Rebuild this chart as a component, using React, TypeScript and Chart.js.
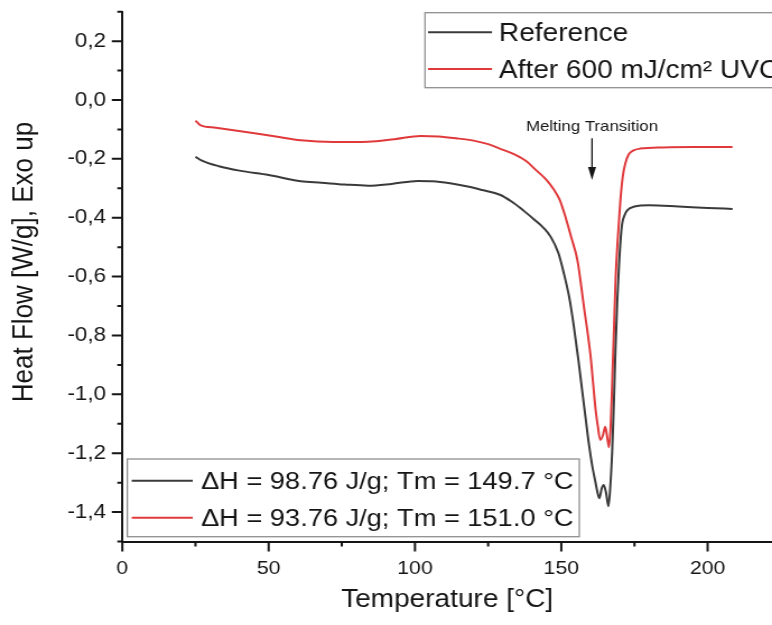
import React, { useEffect, useRef } from 'react';
import { Chart, registerables } from 'chart.js';

Chart.register(...registerables);

// ---------- data ----------
const REF_T = [25, 27, 33, 40, 50, 61, 68, 76, 84, 92, 101, 106, 112, 118, 123, 129, 133, 137, 140.6, 144, 146.4, 149, 150.9, 152.7, 154.3, 155.8, 157.1, 158.3, 159.4, 160.6, 161.7, 162.4, 163, 163.8, 164.5, 165.3, 166.1, 166.7, 167.4, 168, 168.5, 169.1, 169.7, 170.3, 170.8, 171.7, 172.6, 175, 180, 190, 200, 208.5];
const REF_HF = [-0.193, -0.205, -0.225, -0.24, -0.255, -0.276, -0.281, -0.287, -0.291, -0.285, -0.275, -0.276, -0.283, -0.294, -0.306, -0.322, -0.345, -0.375, -0.405, -0.435, -0.465, -0.52, -0.59, -0.67, -0.77, -0.88, -0.985, -1.08, -1.167, -1.245, -1.3, -1.335, -1.353, -1.32, -1.308, -1.335, -1.38, -1.32, -1.19, -1.02, -0.85, -0.69, -0.566, -0.47, -0.42, -0.39, -0.374, -0.362, -0.358, -0.362, -0.367, -0.37];

const UVC_T = [25, 26.6, 32, 44, 53, 61, 72, 84, 93, 102, 108, 114, 120, 125, 129, 134, 138.3, 141, 145, 147.5, 149.5, 151.5, 153.5, 155.5, 157.7, 160, 161.7, 162.5, 163.3, 164.2, 165, 165.6, 166.3, 166.9, 167.4, 168, 168.5, 169.3, 170.2, 171, 171.9, 173, 174.5, 177, 185, 195, 208.5];
const UVC_HF = [-0.07, -0.085, -0.094, -0.111, -0.125, -0.137, -0.143, -0.142, -0.133, -0.122, -0.124, -0.13, -0.138, -0.15, -0.165, -0.185, -0.21, -0.235, -0.272, -0.305, -0.34, -0.4, -0.47, -0.544, -0.7, -0.87, -1.05, -1.11, -1.155, -1.14, -1.11, -1.14, -1.18, -1.1, -0.96, -0.78, -0.62, -0.47, -0.34, -0.26, -0.215, -0.185, -0.172, -0.165, -0.161, -0.16, -0.16];

const SERIES_NAMES = ['Reference', 'After 600 mJ/cm² UVC'];
const ENTHALPY_LABELS = ['ΔH = 98.76 J/g; Tm = 149.7 °C', 'ΔH = 93.76 J/g; Tm = 151.0 °C'];
const X_TICKS = [0, 50, 100, 150, 200];
const Y_TICKS = [-1.4, -1.2, -1.0, -0.8, -0.6, -0.4, -0.2, 0.0, 0.2];
const X_TITLE = 'Temperature [°C]';
const Y_TITLE = 'Heat Flow [W/g], Exo up';
const ANNOT_TEXT = 'Melting Transition';
const ANNOT_T = 160.5;
const ANNOT_TEXT_Y = -0.104;
const ANNOT_ARROW_TOP = -0.13;
const ANNOT_ARROW_TIP = -0.272;

// ---------- style ----------
const FONT = '"Liberation Sans", Arial, Helvetica, sans-serif';
const INK = '#151515';
const REF_COLOR = '#3a3a3a';
const UVC_COLOR = '#e0393b';
const BOX_COLOR = '#8f8f8f';
const OUT_W = 772;
const OUT_H = 625;
const INNER_W = 689;
const SX = OUT_W / INNER_W;
const dx = (v: number) => v / SX;

function fmtY(v: number) {
  if (Math.abs(v) < 1e-9) return '0,0';
  return v.toFixed(1).replace('.', ',');
}

function zeroPad(s: any) {
  s.paddingTop = 0;
  s.paddingBottom = 0;
  s.paddingLeft = 0;
  s.paddingRight = 0;
}

const decor = {
  id: 'decor',
  afterDraw(chart: any) {
    const ctx: CanvasRenderingContext2D = chart.ctx;
    const xs = chart.scales.x;
    const ys = chart.scales.y;
    const ca = chart.chartArea;
    ctx.save();

    // tick marks
    ctx.strokeStyle = INK;
    ctx.lineWidth = 2;
    ctx.beginPath();
    for (let v = 0; v <= xs.max + 1e-9; v += 25) {
      const px = xs.getPixelForValue(v);
      const len = v % 50 === 0 ? 10 : 5;
      ctx.moveTo(px, ca.bottom);
      ctx.lineTo(px, ca.bottom + len);
    }
    for (let i = 0; i <= 18; i++) {
      const v = ys.min + i * 0.1;
      const py = ys.getPixelForValue(v);
      const len = i % 2 === 1 ? dx(10.5) : dx(5);
      ctx.moveTo(ca.left - len, py);
      ctx.lineTo(ca.left, py);
    }
    ctx.stroke();

    const colors = [REF_COLOR, UVC_COLOR];

    // top-right legend
    ctx.lineWidth = 1.3;
    ctx.strokeStyle = BOX_COLOR;
    ctx.strokeRect(dx(425), 12.7, 400, 75);
    const topLineY = [32.3, 69];
    ctx.font = `25px ${FONT}`;
    ctx.fillStyle = INK;
    ctx.textAlign = 'left';
    ctx.textBaseline = 'alphabetic';
    for (let i = 0; i < 2; i++) {
      ctx.strokeStyle = colors[i];
      ctx.lineWidth = 2;
      ctx.beginPath();
      ctx.moveTo(dx(428), topLineY[i]);
      ctx.lineTo(dx(492), topLineY[i]);
      ctx.stroke();
      ctx.fillText(SERIES_NAMES[i], dx(499), topLineY[i] + 9);
    }

    // bottom-left legend
    ctx.fillStyle = '#ffffff';
    ctx.fillRect(dx(127.3), 459, dx(579.3) - dx(127.3), 536.7 - 459);
    ctx.lineWidth = 1.3;
    ctx.strokeStyle = BOX_COLOR;
    ctx.strokeRect(dx(127.3), 459, dx(579.3) - dx(127.3), 536.7 - 459);
    const botLineY = [480.7, 517.7];
    ctx.fillStyle = INK;
    ctx.font = `24.3px ${FONT}`;
    for (let i = 0; i < 2; i++) {
      ctx.strokeStyle = colors[i];
      ctx.lineWidth = 2;
      ctx.beginPath();
      ctx.moveTo(dx(131.7), botLineY[i]);
      ctx.lineTo(dx(192.7), botLineY[i]);
      ctx.stroke();
      ctx.fillText(ENTHALPY_LABELS[i], dx(201), botLineY[i] + 8.7);
    }

    // annotation
    const ax = xs.getPixelForValue(ANNOT_T);
    ctx.font = `15px ${FONT}`;
    ctx.textAlign = 'center';
    ctx.fillText(ANNOT_TEXT, ax, ys.getPixelForValue(ANNOT_TEXT_Y));
    const aTop = ys.getPixelForValue(ANNOT_ARROW_TOP);
    const aTip = ys.getPixelForValue(ANNOT_ARROW_TIP);
    ctx.strokeStyle = INK;
    ctx.lineWidth = 1.3;
    ctx.beginPath();
    ctx.moveTo(ax, aTop);
    ctx.lineTo(ax, aTip - 10);
    ctx.stroke();
    ctx.beginPath();
    ctx.moveTo(ax - dx(4), aTip - 13);
    ctx.lineTo(ax + dx(4), aTip - 13);
    ctx.lineTo(ax, aTip);
    ctx.closePath();
    ctx.fill();

    // axis titles
    ctx.font = `25px ${FONT}`;
    ctx.textAlign = 'center';
    ctx.textBaseline = 'alphabetic';
    ctx.fillText(X_TITLE, (ca.left + ca.right) / 2, 607);
    ctx.save();
    ctx.translate(dx(25), 262);
    ctx.rotate(-Math.PI / 2);
    ctx.font = `26px ${FONT}`;
    ctx.textBaseline = 'middle';
    ctx.fillText(Y_TITLE, 0, 0);
    ctx.restore();

    ctx.restore();
  },
};

export default function App() {
  const ref = useRef<HTMLCanvasElement>(null);
  useEffect(() => {
    const canvas = ref.current;
    if (!canvas) return;
    const chart = new Chart(canvas, {
      type: 'line',
      data: {
        datasets: [
          {
            label: SERIES_NAMES[0],
            data: REF_T.map((t, i) => ({ x: t, y: REF_HF[i] })),
            borderColor: REF_COLOR,
            borderWidth: 2,
            pointRadius: 0,
            cubicInterpolationMode: 'monotone',
            fill: false,
          },
          {
            label: SERIES_NAMES[1],
            data: UVC_T.map((t, i) => ({ x: t, y: UVC_HF[i] })),
            borderColor: UVC_COLOR,
            borderWidth: 2,
            pointRadius: 0,
            cubicInterpolationMode: 'monotone',
            fill: false,
          },
        ],
      },
      options: {
        animation: false,
        responsive: false,
        devicePixelRatio: 1,
        layout: { padding: { left: 0, top: 11.7, right: 0, bottom: 0 } },
        plugins: { legend: { display: false }, tooltip: { enabled: false } },
        scales: {
          x: {
            type: 'linear',
            min: 0,
            max: 222,
            afterFit: (s: any) => { s.height = OUT_H - 541.5; zeroPad(s); },
            afterBuildTicks: (s: any) => { s.ticks = X_TICKS.map((v) => ({ value: v })); },
            ticks: {
              font: { family: FONT, size: 19 },
              color: INK,
              padding: 16,
              maxRotation: 0,
              autoSkip: false,
              callback: (v: any) => String(v),
            },
            grid: { display: false, drawTicks: false },
            border: { display: true, color: INK, width: 2 },
          },
          y: {
            type: 'linear',
            min: -1.5,
            max: 0.3,
            afterFit: (s: any) => { s.width = dx(122.3); zeroPad(s); },
            afterBuildTicks: (s: any) => { s.ticks = Y_TICKS.map((v) => ({ value: v })); },
            ticks: {
              font: { family: FONT, size: 20 },
              color: INK,
              padding: dx(16.3),
              autoSkip: false,
              callback: (v: any) => fmtY(Number(v)),
            },
            grid: { display: false, drawTicks: false },
            border: { display: true, color: INK, width: 2 },
          },
        },
      },
      plugins: [decor],
    } as any);
    return () => chart.destroy();
  }, []);

  return (
    <div style={{ position: 'absolute', left: 0, top: 0, width: OUT_W, height: OUT_H, overflow: 'hidden', background: '#ffffff' }}>
      <div style={{ width: INNER_W, height: OUT_H, transform: `scaleX(${SX})`, transformOrigin: '0 0' }}>
        <canvas ref={ref} width={INNER_W} height={OUT_H} style={{ width: INNER_W, height: OUT_H, display: 'block' }} />
      </div>
    </div>
  );
}
